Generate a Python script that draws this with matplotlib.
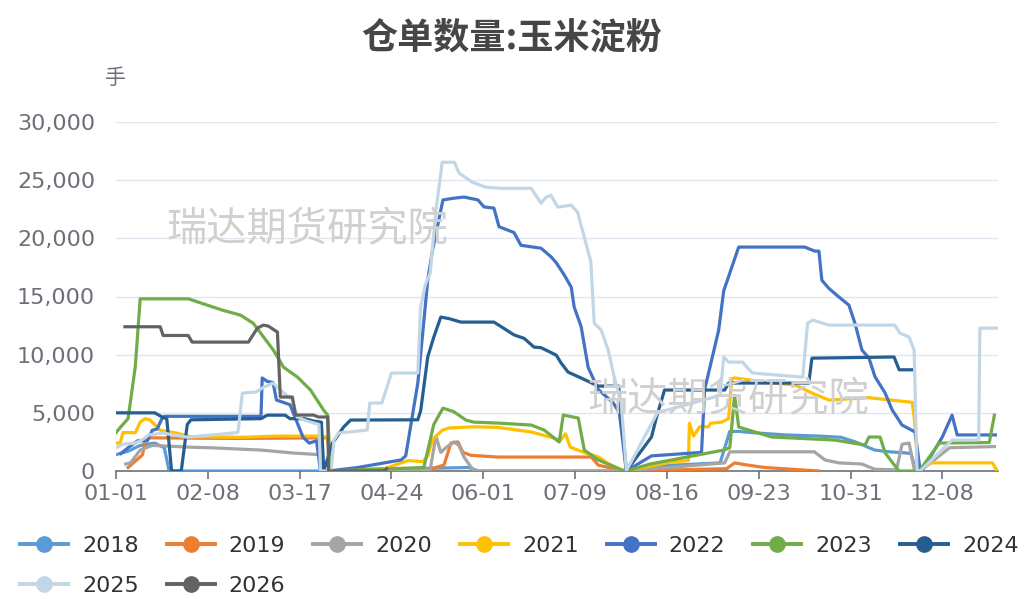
import matplotlib.pyplot as plt
from matplotlib.lines import Line2D

plt.rcParams['font.family'] = ['DejaVu Sans', 'Noto Sans CJK SC']
cjk = ['Noto Sans CJK SC', 'DejaVu Sans']

# x = day of year (0 = 01-01), y = 手
years = ['2018', '2019', '2020', '2021', '2022', '2023', '2024', '2025', '2026']
colors = ['#5B9BD5', '#ED7D31', '#A5A5A5', '#FFC000', '#4472C4',
          '#70AD47', '#255E91', '#C2D7E6', '#636363']

tick_days = [0, 38, 76, 114, 152, 190, 228, 266, 304, 342]
tick_labels = ['01-01', '02-08', '03-17', '04-24', '06-01',
               '07-09', '08-16', '09-23', '10-31', '12-08']

s2018 = [(0, 1400), (5, 1700), (10, 2200), (16, 2400), (20, 2000), (22, 0),
         (88, 0), (95, 100), (146, 300), (150, 0), (211, 0), (221, 400),
         (250, 700), (254, 3400), (258, 3400), (263, 3300), (277, 3100),
         (291, 3000), (300, 2900), (306, 2500), (314, 1800), (320, 1650),
         (327, 1550), (329, 1500), (331, 0)]
s2019 = [(5, 300), (11, 1400), (12, 2700), (14, 2850), (50, 2800), (87.6, 2850),
         (89, 0), (127, 0), (135.7, 500), (138.6, 2400), (141.5, 2500),
         (143.6, 1600), (146.9, 1350), (158, 1200), (196.7, 1200), (199.6, 500),
         (210.4, 0), (252.7, 200), (256, 700), (260, 550), (268.5, 300), (291, 0)]
s2020 = [(4, 600), (6, 700), (10, 1800), (15, 2200), (30, 2050), (39, 2000),
         (60, 1800), (73, 1550), (84.6, 1400), (86, 0), (130, 100), (132.4, 3000),
         (134.4, 1600), (136.5, 2000), (139.8, 2500), (141.9, 2200), (144, 1200),
         (148.1, 0), (211, 0), (251.9, 700), (254, 1650), (289, 1650), (293.4, 950),
         (299, 700), (308.7, 600), (314, 150), (323, 100), (325.3, 2300),
         (328.2, 2400), (330.3, 200), (332.8, 0), (345, 2000), (363.5, 2100)]
s2021 = [(0, 2400), (1.7, 2400), (2.9, 3300), (8, 3300), (10, 4200), (12, 4500),
         (14, 4400), (18.3, 3500), (25.3, 3250), (30.7, 2950), (52.7, 2900),
         (66.8, 3000), (84.6, 3000), (87.6, 2900), (89, 0), (111, 200), (121, 900),
         (127, 800), (129, 1300), (131, 2700), (135, 3500), (137.8, 3700),
         (148, 3800), (158, 3750), (172, 3350), (179, 2950), (184, 2650),
         (186, 3200), (188, 2050), (193, 1650), (199.6, 1200), (204, 600),
         (210.4, 0), (230.7, 800), (236.9, 900), (237.3, 4100), (239, 3000),
         (241.5, 3800), (245.2, 3800), (246, 4100), (250.6, 4200), (253.5, 4500),
         (254.8, 7900), (256, 8000), (270, 7600), (281, 7400), (288, 6700),
         (295, 6100), (311.6, 6300), (329.5, 5900), (330.3, 4650), (332, 0),
         (336.9, 700), (362.7, 700), (364.7, 0)]
s2022 = [(2, 1500), (5, 2000), (9, 2600), (13, 2600), (15, 3500), (17, 3600),
         (19, 4500), (20, 4700), (60, 4700), (60.5, 8000), (62.6, 7700),
         (65, 7600), (66.4, 6100), (72, 5700), (77.4, 2900), (80, 2400),
         (83, 2600), (84.6, 0), (88, 0), (100, 300), (118, 950), (119.9, 1300),
         (124.9, 7560), (127, 12000), (129, 16400), (131, 19000), (135.3, 23300),
         (139.8, 23450), (144, 23550), (149.8, 23300), (152.3, 22700),
         (156.4, 22600), (158.5, 21000), (162.2, 20700), (164.7, 20500),
         (167.6, 19400), (175.9, 19150), (180.1, 18400), (182.2, 17900),
         (185.5, 16850), (188.4, 15800), (189.6, 14100), (192.5, 12400),
         (195.4, 8900), (199.6, 7000), (205.8, 5850), (208.3, 5000), (211.2, 0),
         (221.6, 1300), (242.3, 1600), (243.6, 7000), (249.4, 12100),
         (251.5, 15500), (253.5, 16700), (254.8, 17500), (257.7, 19250),
         (285, 19250), (289.2, 18900), (290.9, 18900), (292.1, 16400),
         (295, 15700), (299.2, 14950), (303.3, 14260), (305.8, 12700),
         (308.7, 10400), (311.6, 9700), (314.1, 8100), (318.3, 6700),
         (321.2, 5250), (325.3, 3950), (330.7, 3350), (332.8, 0), (333.5, 0),
         (341.9, 2900), (346, 4800), (348.1, 3100), (363.9, 3100)]
s2023 = [(0, 3300), (2, 3800), (5, 4500), (8, 9000), (10, 14800), (30, 14800),
         (35, 14450), (44, 13830), (51.5, 13400), (56.8, 12700), (65.1, 10400),
         (69.3, 8930), (75.1, 8070), (80.5, 6960), (85.9, 5240), (87.6, 4810),
         (88.8, 0), (127.4, 300), (131.5, 4000), (135.3, 5400), (139.8, 5100),
         (144.8, 4380), (148.1, 4200), (158.1, 4120), (171.8, 3950),
         (177.2, 3520), (183.4, 2490), (185.1, 4810), (191.3, 4550),
         (193.8, 1800), (199.6, 950), (209.1, 100), (211.2, 0), (221, 600),
         (251.5, 1800), (254, 2000), (256, 6500), (257.7, 3780), (261.8, 3520),
         (271.4, 2920), (297.5, 2660), (310, 2230), (311.6, 2920), (316.2, 2920),
         (318.3, 1550), (324, 0), (332.4, 0), (340.7, 2400), (361.4, 2450),
         (363.5, 4800)]
s2024 = [(0, 5000), (16, 5000), (19.5, 4600), (21, 4500), (23, 0), (27, 0),
         (29.5, 4000), (31, 4400), (60, 4500), (62.6, 4800), (70, 4800),
         (72, 4500), (78, 4500), (81.7, 4300), (85, 4200), (86, 0), (89.6, 2400),
         (94.2, 3780), (97.1, 4380), (124.9, 4400), (126.1, 5200), (129, 9800),
         (131.5, 11500), (134.4, 13230), (137.8, 13100), (142.7, 12800),
         (156.4, 12800), (160.2, 12300), (164.7, 11700), (168.9, 11400),
         (173, 10650), (175.9, 10600), (182.2, 9960), (184.2, 9280),
         (187.1, 8500), (192.5, 7990), (199.6, 7300), (208, 7300), (211.2, 0),
         (221.6, 2920), (223.7, 4640), (227, 6960), (251.9, 6960), (253.5, 7560),
         (286.7, 7560), (288, 9700), (322, 9800), (324.1, 8700), (330.3, 8700)]
s2025 = [(0, 2000), (3, 2300), (8, 2400), (11, 2700), (13.5, 3100), (19.5, 3260),
         (29.5, 2900), (50, 3300), (50.5, 3350), (52.3, 6700), (58, 6790),
         (61, 7200), (65, 7560), (68, 6960), (73, 6100), (75, 4640), (79, 4300),
         (84, 4000), (84.6, 0), (89, 0), (90.2, 2660), (92, 3260), (104, 3520),
         (105, 5840), (110, 5840), (114, 8420), (124.9, 8420), (126, 14000),
         (128, 16000), (130, 17000), (132.4, 22400), (135, 26540), (140, 26540),
         (142, 25600), (147.5, 24820), (153, 24400), (159, 24300), (171.8, 24300),
         (175.9, 23020), (178, 23540), (180, 23700), (182.8, 22680),
         (188.4, 22850), (191, 22250), (193.8, 20100), (196.5, 18000),
         (197.9, 12710), (200.8, 12110), (203.7, 10390), (206.2, 8070),
         (209.1, 5840), (211.2, 0), (224, 5000), (250, 6500), (251.5, 9800),
         (253.5, 9360), (259.3, 9360), (261.4, 8850), (263.5, 8420),
         (284.2, 8070), (286.2, 12710), (288.4, 12970), (295, 12540),
         (322.3, 12540), (324.4, 11850), (328.2, 11510), (330.3, 10390),
         (331.5, 0), (332.8, 0), (346, 2660), (357, 2660), (357.5, 12280),
         (364.7, 12280)]
s2026 = [(3.7, 12400), (18.3, 12400), (19.5, 11650), (29.9, 11650),
         (31.5, 11080), (54.8, 11080), (58.5, 12280), (61, 12540), (63.1, 12450),
         (66.8, 11940), (68, 6360), (73, 6360), (74.3, 4810), (81.7, 4810),
         (83.8, 4640), (87.6, 4640), (88, 0), (111, 0), (112, 200)]

series = [s2018, s2019, s2020, s2021, s2022, s2023, s2024, s2025, s2026]

fig = plt.figure(figsize=(10.24, 5.99), dpi=100)
ax = fig.add_axes([116 / 1024, 1 - 471 / 599, 882 / 1024, 349 / 599])

# watermarks behind the lines
for cx, cy in [(307, 230), (728, 400)]:
    fig.text(cx / 1024, 1 - cy / 599, '瑞达期货研究院', family=cjk, fontsize=29,
             color='#D0D0D0', ha='center', va='center', zorder=0)
ax.patch.set_alpha(0)

for yr, c, s in zip(years, colors, series):
    xs = [p[0] for p in s]
    ys = [p[1] for p in s]
    ax.plot(xs, ys, color=c, lw=2.3, solid_joinstyle='round', zorder=3)

ax.set_xlim(0, 365)
ax.set_ylim(0, 30000)
ax.set_yticks(range(0, 30001, 5000))
ax.set_yticklabels([f'{v:,}' for v in range(0, 30001, 5000)])
ax.set_xticks(tick_days)
ax.set_xticklabels(tick_labels)
ax.tick_params(axis='y', length=0, pad=15, labelsize=16, labelcolor='#6E7079')
ax.tick_params(axis='x', length=6, width=1.2, color='#6E7079', pad=3,
               labelsize=16, labelcolor='#6E7079')
ax.grid(axis='y', color='#E0E6F1', lw=1)
ax.set_axisbelow(True)
for sp in ['top', 'right', 'left']:
    ax.spines[sp].set_visible(False)
ax.spines['bottom'].set_color('#6E7079')
ax.spines['bottom'].set_linewidth(1.2)

fig.text(0.5, 1 - 38 / 599, '仓单数量:玉米淀粉', family=cjk, fontsize=26,
         fontweight='bold', color='#464646', ha='center', va='center')
fig.text(115 / 1024, 1 - 78 / 599, '手', family=cjk, fontsize=15, color='#6E7079',
         ha='center', va='center')

handles = [Line2D([], [], color=c, lw=2.8, marker='o', markersize=11,
                  markerfacecolor=c, markeredgecolor=c) for c in colors]
leg_kw = dict(frameon=False, fontsize=16, handlelength=2.16, handletextpad=0.63,
              columnspacing=1.26, borderaxespad=0, borderpad=0,
              labelcolor='#333333', loc='center left')
leg1 = fig.legend(handles[:7], years[:7], ncol=7,
                  bbox_to_anchor=(20 / 1024, 1 - 546 / 599), **leg_kw)
leg2 = fig.legend(handles[7:], years[7:], ncol=2,
                  bbox_to_anchor=(20 / 1024, 1 - 586 / 599), **leg_kw)

fig.savefig('out.png', dpi=100)
